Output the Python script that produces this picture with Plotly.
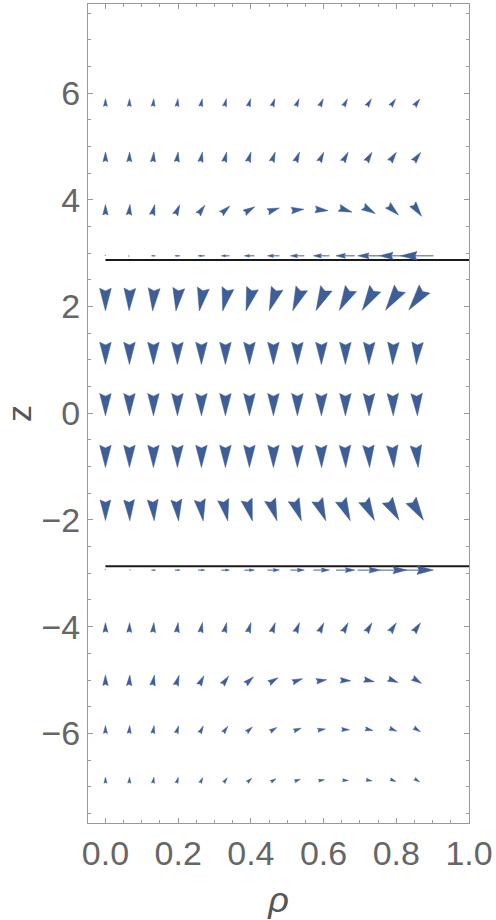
import numpy as np
import plotly.graph_objects as go

# grid of sample points
rho = [0.000, 0.066, 0.132, 0.198, 0.264, 0.330, 0.396, 0.462, 0.528, 0.594, 0.660, 0.725, 0.791, 0.857]
z_rows = [5.82, 4.80, 3.81, 2.95, 2.14, 1.13, 0.17, -0.80, -1.81, -2.94, -4.02, -5.01, -5.93, -6.88]

# field direction (degrees, counter-clockwise from +rho) and magnitude at each sample point, row by row
angle = [
    [90, 88, 85, 82, 79, 76, 73, 70, 67, 64, 61, 58, 55, 52],
    [90, 88, 85, 82, 79, 76, 73, 70, 67, 64, 61, 58, 55, 52],
    [90, 84, 76, 66, 54, 42, 30, 18, 6, -6, -18, -30, -42, -54],
    [90, 180, 180, 180, 180, 180, 180, 180, 180, 180, 180, 180, 180, 180],
    [-90, -92, -94, -97, -100, -103, -106, -109, -112, -115, -118, -121, -124, -127],
    [-90, -90, -90, -90, -90, -90, -90, -90, -90, -90, -90, -91, -92, -93],
    [-90, -90, -90, -90, -90, -90, -90, -90, -90, -90, -90, -90, -89, -88],
    [-90, -90, -90, -90, -90, -90, -90, -90, -90, -89, -88, -87, -86, -84],
    [-90, -88, -86, -84, -81, -78, -75, -72, -70, -68, -66, -63, -60, -58],
    [90, 0, 0, 0, 0, 0, 0, 0, 0, 0, 0, 0, 0, 0],
    [90, 88, 85, 82, 79, 76, 73, 70, 67, 64, 61, 58, 56, 54],
    [90, 86, 80, 72, 63, 53, 42, 31, 20, 9, -2, -12, -22, -32],
    [90, 86, 80, 72, 63, 53, 42, 31, 20, 9, -2, -12, -22, -32],
    [90, 86, 80, 72, 63, 53, 42, 31, 20, 9, -2, -12, -22, -32],
]
magnitude = [
    [0.33, 0.33, 0.33, 0.34, 0.34, 0.34, 0.35, 0.35, 0.35, 0.36, 0.36, 0.37, 0.37, 0.38],
    [0.42, 0.42, 0.43, 0.43, 0.44, 0.44, 0.45, 0.45, 0.46, 0.46, 0.47, 0.48, 0.49, 0.50],
    [0.45, 0.46, 0.47, 0.48, 0.49, 0.50, 0.52, 0.53, 0.55, 0.57, 0.59, 0.61, 0.63, 0.66],
    [0.08, 0.12, 0.17, 0.22, 0.28, 0.34, 0.42, 0.50, 0.58, 0.67, 0.79, 0.95, 1.15, 1.38],
    [0.98, 0.98, 0.99, 1.00, 1.01, 1.02, 1.03, 1.04, 1.05, 1.07, 1.08, 1.10, 1.12, 1.14],
    [0.97, 0.97, 0.97, 0.97, 0.97, 0.97, 0.97, 0.97, 0.97, 0.97, 0.97, 0.97, 0.97, 0.97],
    [0.97, 0.97, 0.97, 0.97, 0.97, 0.97, 0.97, 0.97, 0.97, 0.97, 0.97, 0.97, 0.97, 0.97],
    [0.97, 0.97, 0.97, 0.97, 0.97, 0.97, 0.97, 0.97, 0.97, 0.97, 0.97, 0.97, 0.97, 0.97],
    [0.90, 0.91, 0.92, 0.93, 0.94, 0.95, 0.96, 0.97, 0.98, 0.99, 1.00, 1.00, 1.01, 1.02],
    [0.08, 0.12, 0.17, 0.22, 0.28, 0.34, 0.42, 0.50, 0.58, 0.67, 0.79, 0.95, 1.15, 1.38],
    [0.42, 0.42, 0.43, 0.43, 0.44, 0.44, 0.45, 0.45, 0.46, 0.46, 0.47, 0.48, 0.49, 0.50],
    [0.46, 0.46, 0.46, 0.46, 0.46, 0.46, 0.46, 0.46, 0.46, 0.46, 0.46, 0.46, 0.46, 0.46],
    [0.34, 0.34, 0.34, 0.34, 0.34, 0.34, 0.34, 0.34, 0.34, 0.34, 0.34, 0.34, 0.34, 0.34],
    [0.26, 0.26, 0.26, 0.26, 0.26, 0.26, 0.26, 0.26, 0.26, 0.26, 0.26, 0.26, 0.26, 0.26],
]
# rows lying on the interfaces are drawn with a visible shaft
interface_rows = [3, 9]
interface_z = [2.87, -2.87]

x_ticks = [0.0, 0.2, 0.4, 0.6, 0.8, 1.0]
y_ticks = [-6, -4, -2, 0, 2, 4, 6]

# figure geometry
W, H = 496, 920
margin = dict(l=88, r=25, t=3, b=97)
x_range = [-0.048, 1.0]
y_range = [-7.68, 7.67]
pw = W - margin["l"] - margin["r"]
ph = H - margin["t"] - margin["b"]
sx = pw / (x_range[1] - x_range[0])   # pixels per unit rho
sy = ph / (y_range[1] - y_range[0])   # pixels per unit z

ARROW_PX = 24.0     # screen length of a unit-magnitude arrow
ARROW_COLOR = "rgb(62,94,152)"

heads_x, heads_y = [], []
shaft_x, shaft_y = [], []
for i, zc in enumerate(z_rows):
    with_shaft = i in interface_rows
    for j, rc in enumerate(rho):
        L = magnitude[i][j] * ARROW_PX
        a = np.deg2rad(angle[i][j])
        d = np.array([np.cos(a), np.sin(a)])
        n = np.array([-d[1], d[0]])
        tip = d * L / 2
        tail = -d * L / 2
        h = L * (0.5 if with_shaft else 0.96)
        hw = 0.26 * h
        base = tip - d * h
        notch = tip - d * h * 0.88
        pts = [tip, base + n * hw, notch, base - n * hw, tip]
        for p in pts:
            heads_x.append(rc + p[0] / sx)
            heads_y.append(zc + p[1] / sy)
        heads_x.append(None)
        heads_y.append(None)
        if with_shaft and L > 4:
            for p in (tail, notch):
                shaft_x.append(rc + p[0] / sx)
                shaft_y.append(zc + p[1] / sy)
            shaft_x.append(None)
            shaft_y.append(None)

fig = go.Figure()

# interface lines
for zi in interface_z:
    fig.add_trace(go.Scatter(
        x=[0.0, 1.0], y=[zi, zi], mode="lines",
        line=dict(color="#1a1a1a", width=2), hoverinfo="skip", showlegend=False))

fig.add_trace(go.Scatter(
    x=shaft_x, y=shaft_y, mode="lines",
    line=dict(color=ARROW_COLOR, width=1), hoverinfo="skip", showlegend=False))
fig.add_trace(go.Scatter(
    x=heads_x, y=heads_y, mode="lines", fill="toself",
    fillcolor=ARROW_COLOR, line=dict(color=ARROW_COLOR, width=0.5),
    hoverinfo="skip", showlegend=False))

FONT = "Liberation Sans, Arial, sans-serif"
tick_font = dict(family=FONT, size=34, color="#666666")
frame = dict(showline=True, linecolor="#9a9a9a", linewidth=1, mirror="ticks",
             ticks="inside", ticklen=5, tickcolor="#9a9a9a", tickwidth=1,
             showgrid=False, zeroline=False, tickfont=tick_font)

fig.update_layout(
    width=W, height=H, margin=margin,
    plot_bgcolor="white", paper_bgcolor="white",
    xaxis=dict(range=x_range, tickvals=x_ticks, ticktext=[f"{v:.1f}" for v in x_ticks],
               minor=dict(ticks="inside", dtick=0.05, tick0=0, ticklen=3, tickcolor="#9a9a9a"),
               title=dict(text="<i>ρ</i>", font=dict(family=FONT, size=36, color="#555555"),
                          standoff=20),
               **frame),
    yaxis=dict(range=y_range, tickvals=y_ticks,
               minor=dict(ticks="inside", dtick=0.5, tick0=0, ticklen=3, tickcolor="#9a9a9a"),
               title=dict(text="z", font=dict(family=FONT, size=34, color="#555555"), standoff=14),
               **frame),
)

fig.write_html("out.html")
